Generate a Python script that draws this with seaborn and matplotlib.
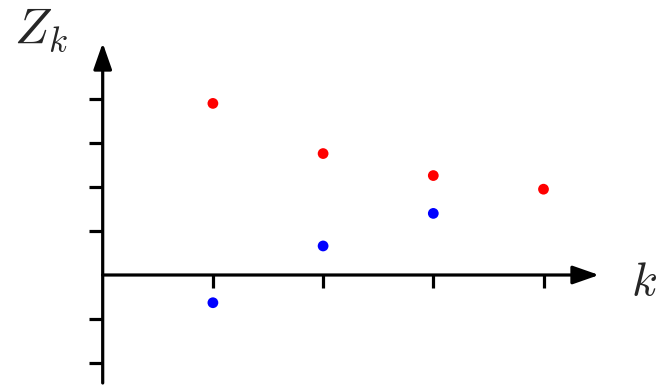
import matplotlib
matplotlib.use("Agg")
import matplotlib.pyplot as plt
import seaborn as sns
import pandas as pd

# Data
k_red = [1, 2, 3, 4]
z_red = [3.90, 2.76, 2.26, 1.95]
k_blue = [1, 2, 3]
z_blue = [-0.63, 0.66, 1.40]
x_ticks = [1, 2, 3, 4]
y_ticks = [-2, -1, 1, 2, 3, 4]

sns.set_theme(style="white")
plt.rcParams["mathtext.fontset"] = "cm"

W, H = 658, 385
fig = plt.figure(figsize=(W / 100, H / 100), dpi=100)
ax = fig.add_axes([0, 0, 1, 1])
ax.set_axis_off()

# pixel mapping: origin at (102.7, 275), 110.2 px per x unit, 44 px per y unit
ox, oy, sx, sy = 102.7, 275.0, 110.2, 44.0
ax.set_xlim(-ox / sx, (W - ox) / sx)
ax.set_ylim((oy - H) / sy, oy / sy)

lw = 2.3
arrow = dict(arrowstyle="-|>,head_length=0.8,head_width=0.28", lw=lw,
             color="black", shrinkA=0, shrinkB=0, mutation_scale=20)
# y-axis
ax.annotate("", xy=(0, (oy - 43) / sy), xytext=(0, (oy - 383) / sy), arrowprops=arrow)
# x-axis
ax.annotate("", xy=((599 - ox) / sx, 0), xytext=(0, 0), arrowprops=arrow)

# ticks
tx = 14 / sx
for yt in y_ticks:
    ax.plot([-tx, 0], [yt, yt], color="black", lw=lw, solid_capstyle="butt")
ty = 13 / sy
for xt in x_ticks:
    ax.plot([xt, xt], [0, -ty], color="black", lw=lw, solid_capstyle="butt")

df_r = pd.DataFrame({"k": k_red, "z": z_red})
df_b = pd.DataFrame({"k": k_blue, "z": z_blue})
sns.scatterplot(data=df_r, x="k", y="z", ax=ax, color="#ff0000", s=60,
                edgecolor="none", zorder=5)
sns.scatterplot(data=df_b, x="k", y="z", ax=ax, color="#0000ff", s=60,
                edgecolor="none", zorder=5)

fig.text(14 / W, 1 - 43 / H, r"$Z_k$", fontsize=36, ha="left", va="baseline")
fig.text(631 / W, 1 - 295 / H, r"$k$", fontsize=34, ha="left", va="baseline")

fig.savefig("out.png", dpi=100)
